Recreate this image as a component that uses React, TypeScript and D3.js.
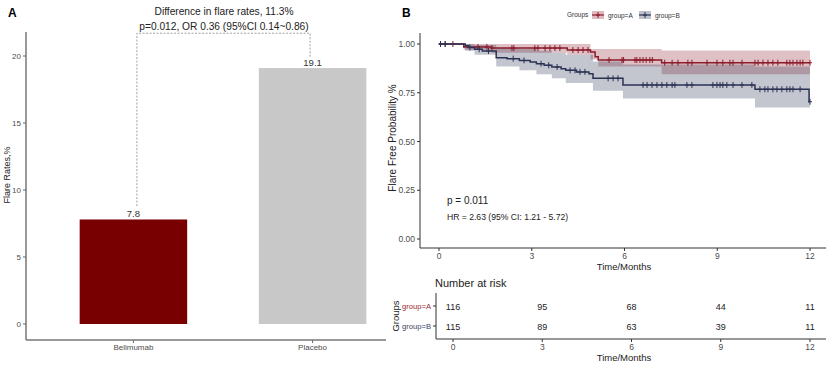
import React from "react";
import * as d3 from "d3";

// panel A: flare rates
const barCats = ["Belimumab", "Placebo"];
const barValues = [7.8, 19.1];
const barColors = ["#780000", "#c8c8c8"];
const barTicks = [0, 5, 10, 15, 20];
const titleLines = ["Difference in flare rates, 11.3%", "p=0.012, OR 0.36 (95%CI 0.14~0.86)"];
const bracketTop = 21.7;
const bracketEnds = [8.8, 19.9];

// panel B: Kaplan-Meier
const groups = ["group=A", "group=B"];
const groupColors = ["#8b1c2c", "#2b3354"];
const kmTicksX = [0, 3, 6, 9, 12];
const kmTicksY = [0, 0.25, 0.5, 0.75, 1];

const timesA = [0, 0.8, 1.7, 4.15, 4.9, 5.05, 5.15, 7.2];
const survA = [1, 0.985, 0.979, 0.969, 0.959, 0.935, 0.918, 0.904];
const bandTimesA = [0, 0.8, 1.7, 4.15, 4.9, 5.15, 7.2];
const upperA = [1, 1, 1, 1, 0.975, 0.975, 0.967];
const lowerA = [1, 0.97, 0.955, 0.945, 0.92, 0.885, 0.845];
const censorA = [0.05, 0.2, 0.45, 1.26, 1.55, 1.71, 2.36, 2.42, 3.1, 3.2, 3.43, 3.59, 3.75, 3.91, 4.33, 4.5, 4.66, 4.82, 5.5, 5.92, 5.97, 6.34, 6.4, 6.5, 6.6, 6.7, 6.82, 6.9, 7.3, 7.54, 7.73, 8.05, 8.18, 8.67, 8.99, 9.18, 9.41, 9.51, 9.8, 10.22, 10.32, 10.48, 10.64, 10.8, 10.96, 11.25, 11.35, 11.45, 11.58, 11.68, 11.77, 12];

const timesB = [0, 0.85, 0.95, 1.15, 1.4, 1.85, 2.2, 2.6, 2.95, 3.15, 3.4, 3.65, 3.95, 4.1, 4.45, 4.85, 4.98, 5.95, 10.22, 11.97];
const survB = [1, 0.991, 0.982, 0.973, 0.964, 0.93, 0.925, 0.916, 0.908, 0.899, 0.891, 0.882, 0.873, 0.865, 0.857, 0.848, 0.824, 0.79, 0.768, 0.704];
const bandTimesB = [0, 0.85, 1.15, 1.85, 2.6, 3.15, 3.65, 4.1, 4.98, 5.95, 10.22];
const upperB = [1, 1, 0.995, 0.98, 0.975, 0.965, 0.955, 0.945, 0.91, 0.895, 0.885];
const lowerB = [1, 0.965, 0.945, 0.885, 0.865, 0.845, 0.825, 0.8, 0.76, 0.72, 0.675];
const censorB = [0.05, 0.2, 1.0, 1.3, 1.6, 2.4, 2.75, 3.3, 3.55, 3.82, 4.24, 4.4, 4.56, 4.72, 5.47, 5.63, 5.79, 6.6, 6.73, 6.89, 7.05, 7.21, 7.37, 7.54, 7.63, 8.02, 8.18, 8.86, 8.99, 9.09, 9.18, 9.31, 9.51, 9.8, 10.12, 10.38, 10.54, 10.64, 10.8, 10.93, 11.09, 11.25, 11.35, 11.45, 11.68, 12];

const riskTimes = [0, 3, 6, 9, 12];
const riskA = [116, 95, 68, 44, 11];
const riskB = [115, 89, 63, 39, 11];

const FONT = "'Liberation Sans', Arial, sans-serif";
const TICK = "#4d4d4d";

function stepAt(times: number[], vals: number[], t: number): number {
  let v = vals[0];
  for (let i = 0; i < times.length; i++) if (times[i] <= t) v = vals[i];
  return v;
}

function BarPanel() {
  const x = d3.scaleBand().domain(barCats).range([8, 438]).padding(0.4);
  const y = d3.scaleLinear().domain([0, 20]).range([324, 56]);
  const axisTop = 32;
  const axisBottom = 340;
  const lx = x(barCats[0])! + x.bandwidth() / 2 + 3.5;
  const rx = x(barCats[1])! + x.bandwidth() / 2 - 2.5;
  return (
    <g fontFamily={FONT}>
      <text x={8} y={17} fontSize={12} fontWeight="bold">A</text>
      {barCats.map((c, i) => (
        <g key={c}>
          <rect x={x(c)} y={y(barValues[i])} width={x.bandwidth()} height={y(0) - y(barValues[i])} fill={barColors[i]} />
          <text x={x(c)! + x.bandwidth() / 2} y={y(barValues[i]) - 2.5} fontSize={9.5} textAnchor="middle" fill="#333">
            {barValues[i]}
          </text>
          <line x1={x(c)! + x.bandwidth() / 2} x2={x(c)! + x.bandwidth() / 2} y1={axisBottom} y2={axisBottom + 3} stroke="#666" />
          <text x={x(c)! + x.bandwidth() / 2} y={350} fontSize={8} textAnchor="middle" fill={TICK}>{c}</text>
        </g>
      ))}
      <path
        d={`M${lx},${y(bracketEnds[0])}V${y(bracketTop)}H${rx}V${y(bracketEnds[1])}`}
        fill="none"
        stroke="#888"
        strokeWidth={0.8}
        strokeDasharray="2,1.5"
      />
      <text x={224} y={15} fontSize={10.2} textAnchor="middle" fill="#222">{titleLines[0]}</text>
      <text x={224} y={30} fontSize={10.2} textAnchor="middle" fill="#222">{titleLines[1]}</text>
      <line x1={26} x2={26} y1={axisTop} y2={axisBottom} stroke="#777" strokeWidth={1.5} />
      <line x1={26} x2={386} y1={axisBottom} y2={axisBottom} stroke="#777" strokeWidth={1.5} />
      {barTicks.map((t) => (
        <g key={t}>
          <line x1={23} x2={26} y1={y(t)} y2={y(t)} stroke="#666" />
          <text x={21} y={y(t) + 3} fontSize={8} textAnchor="end" fill={TICK}>{t}</text>
        </g>
      ))}
      <text transform="translate(10,175) rotate(-90)" fontSize={9} textAnchor="middle" fill="#222">Flare Rates,%</text>
    </g>
  );
}

function Censor({ cx, cy, color }: { cx: number; cy: number; color: string }) {
  return <path d={`M${cx},${cy - 3}V${cy + 3}M${cx - 2},${cy}H${cx + 2}`} stroke={color} strokeWidth={1} />;
}

function KmPanel() {
  const x = d3.scaleLinear().domain([0, 12]).range([439, 810]);
  const y = d3.scaleLinear().domain([0, 1]).range([239, 44]);
  const line = d3.line<[number, number]>().x((d) => x(d[0])).y((d) => y(d[1])).curve(d3.curveStepAfter);
  const area = d3
    .area<[number, number, number]>()
    .x((d) => x(d[0]))
    .y0((d) => y(d[1]))
    .y1((d) => y(d[2]))
    .curve(d3.curveStepAfter);

  const series = [
    { times: timesA, surv: survA, bt: bandTimesA, lo: lowerA, up: upperA, cens: censorA },
    { times: timesB, surv: survB, bt: bandTimesB, lo: lowerB, up: upperB, cens: censorB },
  ];

  const tx = d3.scaleLinear().domain([0, 12]).range([453, 810]);
  const rowY = [306, 326];
  const riskRows = [riskA, riskB];

  return (
    <g fontFamily={FONT}>
      <text x={402} y={17} fontSize={12} fontWeight="bold">B</text>
      {/* legend */}
      <text x={567} y={17} fontSize={6.5} fill="#333">Groups</text>
      {groups.map((g, i) => {
        const kx = [592, 639][i];
        return (
          <g key={g}>
            <rect x={kx} y={11} width={12} height={8} fill={groupColors[i]} fillOpacity={0.3} />
            <Censor cx={kx + 6} cy={15} color={groupColors[i]} />
            <line x1={kx} x2={kx + 12} y1={15} y2={15} stroke={groupColors[i]} strokeWidth={1.2} />
            <text x={kx + 16} y={17.5} fontSize={6.5} fill="#333">{g}</text>
          </g>
        );
      })}
      {/* confidence bands */}
      {series.map((s, i) => {
        const pts: [number, number, number][] = s.bt.map((t, j) => [t, s.lo[j], s.up[j]]);
        pts.push([12, s.lo[s.lo.length - 1], s.up[s.up.length - 1]]);
        return <path key={"b" + i} d={area(pts)!} fill={groupColors[i]} fillOpacity={0.28} />;
      })}
      {/* curves */}
      {series.map((s, i) => {
        const pts: [number, number][] = s.times.map((t, j) => [t, s.surv[j]]);
        pts.push([12, s.surv[s.surv.length - 1]]);
        return (
          <g key={"l" + i}>
            <path d={line(pts)!} fill="none" stroke={groupColors[i]} strokeWidth={1.5} />
            {s.cens.map((t, k) => (
              <Censor key={k} cx={x(t)} cy={y(stepAt(s.times, s.surv, t))} color={groupColors[i]} />
            ))}
          </g>
        );
      })}
      {/* axes */}
      <line x1={420} x2={420} y1={33} y2={248} stroke="#333" strokeWidth={1} />
      <line x1={420} x2={826} y1={248} y2={248} stroke="#333" strokeWidth={1} />
      {kmTicksY.map((t) => (
        <g key={t}>
          <line x1={417} x2={420} y1={y(t)} y2={y(t)} stroke="#333" />
          <text x={415} y={y(t) + 3} fontSize={8.5} textAnchor="end" fill={TICK}>{t.toFixed(2)}</text>
        </g>
      ))}
      {kmTicksX.map((t) => (
        <g key={t}>
          <line x1={x(t)} x2={x(t)} y1={248} y2={251} stroke="#333" />
          <text x={x(t)} y={259} fontSize={8.5} textAnchor="middle" fill={TICK}>{t}</text>
        </g>
      ))}
      <text x={624} y={270} fontSize={9.5} textAnchor="middle" fill="#222">Time/Months</text>
      <text transform="translate(396,138) rotate(-90)" fontSize={10} textAnchor="middle" fill="#222">Flare Free Probability %</text>
      <text x={447} y={204} fontSize={10} fill="#222">p = 0.011</text>
      <text x={447} y={220} fontSize={8.6} fill="#222">HR = 2.63 (95% CI: 1.21 - 5.72)</text>

      {/* risk table */}
      <text x={435} y={287} fontSize={11} fill="#222">Number at risk</text>
      <line x1={436} x2={436} y1={293} y2={339} stroke="#333" />
      <line x1={436} x2={826} y1={339} y2={339} stroke="#333" />
      {groups.map((g, i) => (
        <g key={g}>
          <line x1={433} x2={436} y1={rowY[i]} y2={rowY[i]} stroke="#333" />
          <text x={431} y={rowY[i] + 3} fontSize={7.6} textAnchor="end" fill={i === 0 ? "#9a2a35" : "#3c4466"}>{g}</text>
          {riskTimes.map((t, j) => (
            <text key={t} x={tx(t)} y={rowY[i] + 3.5} fontSize={9} textAnchor="middle" fill="#222">
              {riskRows[i][j]}
            </text>
          ))}
        </g>
      ))}
      {riskTimes.map((t) => (
        <g key={t}>
          <line x1={tx(t)} x2={tx(t)} y1={339} y2={342} stroke="#333" />
          <text x={tx(t)} y={350} fontSize={8.5} textAnchor="middle" fill={TICK}>{t}</text>
        </g>
      ))}
      <text x={624} y={361} fontSize={9.5} textAnchor="middle" fill="#222">Time/Months</text>
      <text transform="translate(399,316) rotate(-90)" fontSize={9.5} textAnchor="middle" fill="#222">Groups</text>
    </g>
  );
}

export default function App() {
  return (
    <svg width={832} height={366} style={{ position: "absolute", left: 0, top: 0, background: "#fff" }}>
      <BarPanel />
      <KmPanel />
    </svg>
  );
}
